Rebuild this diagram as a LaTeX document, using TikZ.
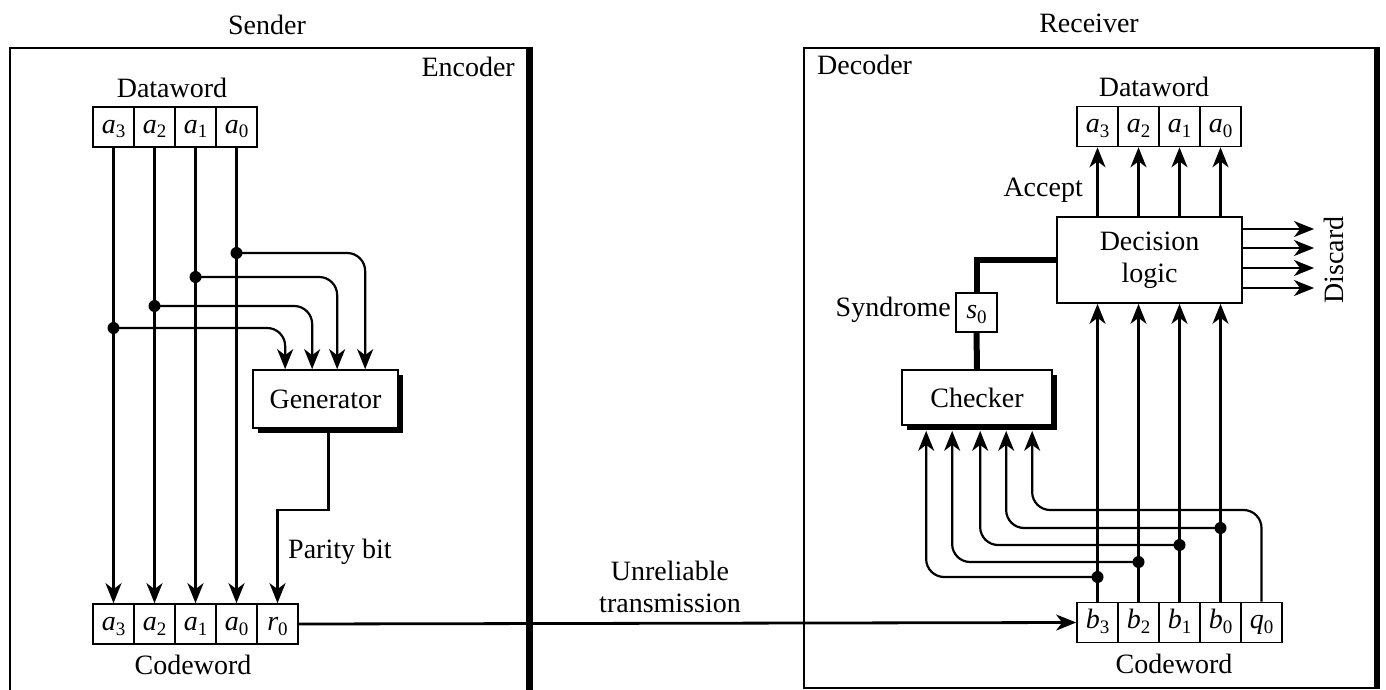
\documentclass[tikz,border=0pt]{standalone}
\usepackage{fontspec}
\setmainfont{Liberation Serif}
\usetikzlibrary{arrows.meta,shadows}
\newcommand\diagfont{\fontsize{28}{32}\selectfont}
\newcommand\sbit[2]{\textit{#1}\raisebox{-5pt}{\fontsize{19}{19}\selectfont #2}}

\begin{document}
\begin{tikzpicture}[x=1pt,y=-1pt,
  font=\diagfont,
  wire/.style={line width=2.2pt},
  arr/.style={wire,-{Stealth[length=20pt,width=16pt,inset=6pt]}},
  cell/.style={draw,line width=1.7pt,minimum width=41pt,minimum height=40pt,
    inner sep=0pt,text height=18pt,text depth=6pt},
  unit/.style={draw,line width=1.7pt,fill=white,inner sep=0pt,
    drop shadow={shadow xshift=5pt,shadow yshift=-5pt,fill=black,opacity=1}},
  dot/.style={circle,fill=black,inner sep=0pt,minimum size=12pt},
  label/.style={inner sep=0pt},
  frame/.style={line width=2pt},
  bus/.style={line width=6pt}
]
\useasboundingbox (0,0) rectangle (1386,690);

% ---------- frames ----------
\draw[frame] (10,690) -- (10,48) -- (528,48);
\draw[line width=7pt] (529,47) -- (529,690);
\draw[frame] (1376,688) -- (804,688) -- (804,48) -- (1376,48);
\draw[line width=6pt] (1377,47) -- (1377,689);

\node[label] (sender) at (267,25) {Sender};
\node[label] (receiver) at (1089,23) {Receiver};
\node[label,anchor=east] (enc) at (515,67) {Encoder};
\node[label,anchor=west] (deco) at (817,65) {Decoder};

% ---------- encoder ----------
\node[label] (sdw) at (172,88) {Dataword};
\node[cell] (sa3) at (113.5,127) {\sbit{a}{3}};
\node[cell] (sa2) at (154.5,127) {\sbit{a}{2}};
\node[cell] (sa1) at (195.5,127) {\sbit{a}{1}};
\node[cell] (sa0) at (236.5,127) {\sbit{a}{0}};

\node[cell] (sc3) at (113.5,624) {\sbit{a}{3}};
\node[cell] (sc2) at (154.5,624) {\sbit{a}{2}};
\node[cell] (sc1) at (195.5,624) {\sbit{a}{1}};
\node[cell] (sc0) at (236.5,624) {\sbit{a}{0}};
\node[cell] (sr0) at (277.5,624) {\sbit{r}{0}};
\node[label] (scw) at (193,665) {Codeword};

\node[unit,minimum width=145pt,minimum height=58pt] (gen) at (325.5,399) {Generator};

\draw[arr] (sa3.south) -- (sc3.north);
\draw[arr] (sa2.south) -- (sc2.north);
\draw[arr] (sa1.south) -- (sc1.north);
\draw[arr] (sa0.south) -- (sc0.north);

\node[dot] (d0) at (sa0.south |- 0,253) {};
\node[dot] (d1) at (sa1.south |- 0,277) {};
\node[dot] (d2) at (sa2.south |- 0,306) {};
\node[dot] (d3) at (sa3.south |- 0,328) {};

\coordinate (g3) at ([xshift=33pt]gen.north west);
\coordinate (g2) at ([xshift=60pt]gen.north west);
\coordinate (g1) at ([xshift=85pt]gen.north west);
\coordinate (g0) at ([xshift=113pt]gen.north west);
\draw[arr,rounded corners=18pt] (d3.center) -| (g3);
\draw[arr,rounded corners=18pt] (d2.center) -| (g2);
\draw[arr,rounded corners=18pt] (d1.center) -| (g1);
\draw[arr,rounded corners=18pt] (d0.center) -| (g0);

\coordinate (gout) at ([xshift=3pt]gen.south);
\coordinate (pbend) at (0,510);
\draw[arr] (gout) -- (gout |- pbend) -| (sr0.north);
\node[label,anchor=west] (parity) at (288,552) {Parity bit};

% ---------- channel ----------
\node[label,align=center] (unrel) at (670,587) {Unreliable\\transmission};

% ---------- decoder ----------
\node[label] (rdw) at (1154,87) {Dataword};
\node[cell] (rd3) at (1097.5,126.5) {\sbit{a}{3}};
\node[cell] (rd2) at (1138.5,126.5) {\sbit{a}{2}};
\node[cell] (rd1) at (1179.5,126.5) {\sbit{a}{1}};
\node[cell] (rd0) at (1220.5,126.5) {\sbit{a}{0}};

\node[draw,line width=1.7pt,minimum width=185pt,minimum height=86pt,
  align=center,inner sep=0pt] (dec) at (1149.5,260) {Decision\\logic};

\draw[arr] (dec.north -| rd3) -- (rd3.south);
\draw[arr] (dec.north -| rd2) -- (rd2.south);
\draw[arr] (dec.north -| rd1) -- (rd1.south);
\draw[arr] (dec.north -| rd0) -- (rd0.south);
\node[label,anchor=east] (accept) at (1083,190) {Accept};

\coordinate (dx1) at (1314,229);
\coordinate (dx2) at (1314,248);
\coordinate (dx3) at (1314,268);
\coordinate (dx4) at (1314,288);
\draw[arr] (dec.east |- dx1) -- (dx1);
\draw[arr] (dec.east |- dx2) -- (dx2);
\draw[arr] (dec.east |- dx3) -- (dx3);
\draw[arr] (dec.east |- dx4) -- (dx4);
\node[label,rotate=90] (discard) at (1334,260) {Discard};

\node[cell,minimum height=39pt] (s0) at (976.5,312.5) {\sbit{s}{0}};
\node[label,anchor=east] (synd) at (951,310) {Syndrome};
\draw[bus] (dec.west) -| (s0.north);

\node[unit,minimum width=150pt,minimum height=55pt] (chk) at (977,397.5) {Checker};
\draw[bus] (s0.south) -- (chk.north);

\node[cell] (rb3) at (1097.5,622.5) {\sbit{b}{3}};
\node[cell] (rb2) at (1138.5,622.5) {\sbit{b}{2}};
\node[cell] (rb1) at (1179.5,622.5) {\sbit{b}{1}};
\node[cell] (rb0) at (1220.5,622.5) {\sbit{b}{0}};
\node[cell] (rq0) at (1261.5,622.5) {\sbit{q}{0}};
\node[label] (rcw) at (1174,664) {Codeword};

\draw[arr,line width=2.8pt] (sr0.east) -- (rb3.west);

\draw[arr] (rb3.north) -- (dec.south -| rb3);
\draw[arr] (rb2.north) -- (dec.south -| rb2);
\draw[arr] (rb1.north) -- (dec.south -| rb1);
\draw[arr] (rb0.north) -- (dec.south -| rb0);

\node[dot] (e3) at (rb3.north |- 0,577) {};
\node[dot] (e2) at (rb2.north |- 0,562) {};
\node[dot] (e1) at (rb1.north |- 0,545) {};
\node[dot] (e0) at (rb0.north |- 0,528) {};

\coordinate (c3) at ([shift={(25pt,-5pt)}]chk.south west);
\coordinate (c2) at ([shift={(51pt,-5pt)}]chk.south west);
\coordinate (c1) at ([shift={(79pt,-5pt)}]chk.south west);
\coordinate (c0) at ([shift={(105pt,-5pt)}]chk.south west);
\coordinate (cq) at ([shift={(131pt,-5pt)}]chk.south west);
\coordinate (qbend) at (0,510);

\draw[arr,rounded corners=18pt] (e3.center) -| (c3);
\draw[arr,rounded corners=18pt] (e2.center) -| (c2);
\draw[arr,rounded corners=18pt] (e1.center) -| (c1);
\draw[arr,rounded corners=18pt] (e0.center) -| (c0);
\draw[arr,rounded corners=18pt] (rq0.north) -- (rq0.north |- qbend) -| (cq);
\end{tikzpicture}
\end{document}
